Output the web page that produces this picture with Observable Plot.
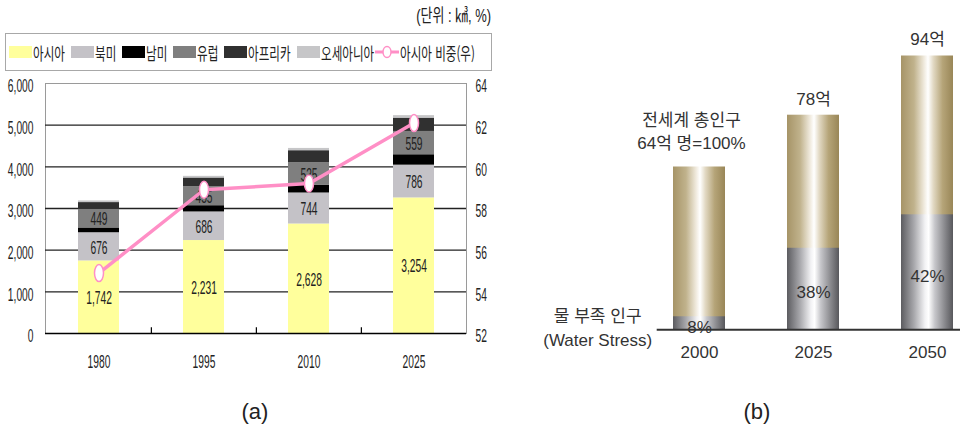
<!DOCTYPE html>
<html lang="ko">
<head>
<meta charset="utf-8">
<script src="https://cdn.jsdelivr.net/npm/d3@7"></script>
<script src="https://cdn.jsdelivr.net/npm/@observablehq/plot@0.6"></script>
<style>
  html, body { margin: 0; padding: 0; background: #fff; }
  #wrap { position: relative; width: 961px; height: 436px; overflow: hidden;
          font-family: "Liberation Sans", "Noto Sans CJK KR", sans-serif; color: #222; }
  #wrap > svg { position: absolute; top: 0; }
  #unit { position: absolute; top: 6px; right: 470px; font-size: 18px; line-height: 20px;
          white-space: nowrap; transform: scaleX(0.72); transform-origin: right center; }
  #legend { position: absolute; left: 5px; top: 33px; width: 487px; height: 38px; box-sizing: border-box;
            border: 1px solid #a8a8a8; display: flex; align-items: center; padding-left: 3px; }
  .sw { width: 23px; height: 12px; flex: none; margin-right: 1px; }
  .lab { flex: none; margin-right: 6px; font: 17px "Noto Sans CJK KR", sans-serif; white-space: nowrap; }
  .narrow { display: inline-block; white-space: nowrap; transform-origin: left center; }
  .cap { position: absolute; top: 400px; width: 60px; text-align: center; font-size: 22px; line-height: 24px; color: #222; }
</style>
</head>
<body>
<div id="wrap">
  <div id="unit">(단위 : ㎦, %)</div>
  <div id="legend"></div>
  <div class="cap" style="left:225px">(a)</div>
  <div class="cap" style="left:727px">(b)</div>
</div>
<script>
// ---- (a) 대륙별 물 사용량 (㎦) 과 아시아 비중 (%) ----
const years = ["1980", "1995", "2010", "2025"];
const regions = ["아시아", "북미", "남미", "유럽", "아프리카", "오세아니아"];
const regionColors = ["#ffff9c", "#c4c2c7", "#000000", "#7f7f7f", "#303030", "#c6c6c8"];
const asia = [1742, 2231, 2628, 3254];
const northAmerica = [676, 686, 744, 786];
const southAmerica = [115, 150, 190, 250];
const europe = [449, 455, 535, 559];
const africa = [160, 210, 290, 320];
const oceania = [40, 40, 55, 60];
const asiaShare = [54.9, 58.9, 59.2, 62.1];
const labeledRegions = ["아시아", "북미", "유럽"];
const leftTicks = [0, 1000, 2000, 3000, 4000, 5000, 6000];
const rightTicks = [52, 54, 56, 58, 60, 62, 64];
const shareLabel = "아시아 비중(우)";

// ---- (b) 세계 인구와 물 부족 인구 ----
const popYears = ["2000", "2025", "2050"];
const popTotal = [64, 78, 94];      // 억 명
const stressPct = [8, 38, 42];      // %
const popFloor = 20;                // 막대 높이 기준선

const pink = "#ff8fc6";
const squeeze = 0.57;

const regionValues = [asia, northAmerica, southAmerica, europe, africa, oceania];
const rows = [];
regions.forEach((region, i) => years.forEach((year, j) => rows.push({year, region, value: regionValues[i][j]})));
const shares = years.map((year, j) => ({year, share: asiaShare[j]}));
const shareToLeft = d3.scaleLinear([rightTicks[0], rightTicks[rightTicks.length - 1]], [leftTicks[0], leftTicks[leftTicks.length - 1]]);
const fmt = d3.format(",");

// tall, narrow marker for the share line
const ellipse = {
  draw(ctx, size) {
    const ry = Math.sqrt(size / Math.PI), rx = ry * 0.53, k = 0.5523;
    ctx.moveTo(rx, 0);
    ctx.bezierCurveTo(rx, k * ry, k * rx, ry, 0, ry);
    ctx.bezierCurveTo(-k * rx, ry, -rx, k * ry, -rx, 0);
    ctx.bezierCurveTo(-rx, -k * ry, -k * rx, -ry, 0, -ry);
    ctx.bezierCurveTo(k * rx, -ry, rx, -k * ry, rx, 0);
    ctx.closePath();
  }
};

const plotLeft = 45, plotRight = 466;
const step = (plotRight - plotLeft) / years.length;

const chartA = Plot.plot({
  width: 500, height: 380,
  marginLeft: plotLeft, marginRight: 500 - plotRight, marginTop: 83, marginBottom: 47,
  x: {type: "band", domain: years, paddingInner: 0.61, paddingOuter: 0.305},
  y: {domain: [leftTicks[0], leftTicks[leftTicks.length - 1]]},
  color: {domain: regions, range: regionColors},
  style: {fontFamily: "'Liberation Sans', 'Noto Sans CJK KR', sans-serif", fontSize: "18px", color: "#222", background: "transparent"},
  marks: [
    Plot.frame({stroke: "#9a9a9a"}),
    Plot.ruleY(leftTicks.slice(1, -1), {stroke: "#222", strokeWidth: 1.4}),
    Plot.barY(rows, {x: "year", y: "value", fill: "region", order: regions}),
    Plot.ruleY([0], {stroke: "#000", strokeWidth: 1.6}),
    Plot.ruleX(years.slice(1), {x: d => d, dx: -step / 2, y1: 0, y2: 140, stroke: "#000", strokeWidth: 1.2}),
    Plot.axisY(leftTicks, {anchor: "left", tickSize: 0, tickPadding: 12, tickFormat: fmt, dy: 3, label: null}),
    Plot.axisY(rightTicks.map(shareToLeft), {anchor: "right", tickSize: 0, tickPadding: 9,
      tickFormat: d => Math.round(shareToLeft.invert(d)), dy: 3, label: null}),
    Plot.axisX({tickSize: 0, tickPadding: 22, label: null}),
    Plot.text(rows, Plot.stackY({x: "year", y: "value", z: "region", order: regions, dy: 1,
      text: d => labeledRegions.includes(d.region) ? fmt(d.value) : null})),
    Plot.line(shares, {x: "year", y: d => shareToLeft(d.share), stroke: pink, strokeWidth: 3.5}),
    Plot.dot(shares, {x: "year", y: d => shareToLeft(d.share), symbol: ellipse, r: 8.5,
      fill: "white", stroke: pink, strokeWidth: 1.5})
  ]
});
chartA.style.left = "0px";

// condensed lettering in panel (a)
d3.select(chartA).selectAll("text").each(function() {
  const t = this.getAttribute("transform") || "";
  const x = +this.getAttribute("x") || 0, y = +this.getAttribute("y") || 0;
  this.setAttribute("transform", `${t} translate(${x},${y}) scale(${squeeze},1) translate(${-x},${-y})`);
});

const popRows = popYears.map((year, i) => ({year, total: popTotal[i], pct: stressPct[i]}));
const stressTop = d => popFloor + (d.total - popFloor) * d.pct / 100;

const chartB = Plot.plot({
  width: 431, height: 436,
  marginLeft: 126.7, marginRight: 1, marginTop: 55.5, marginBottom: 106.7,
  x: {type: "band", domain: popYears, paddingInner: 0.546, paddingOuter: 0.0974, align: 0.695},
  y: {domain: [popFloor, d3.max(popTotal)], axis: null},
  style: {fontFamily: "'Liberation Sans', 'Noto Sans CJK KR', sans-serif", fontSize: "17px", color: "#333", background: "transparent"},
  marks: [
    Plot.barY(popRows, {x: "year", y1: popFloor, y2: "total", fill: "url(#khakiGrad)"}),
    Plot.barY(popRows, {x: "year", y1: popFloor, y2: stressTop, fill: "url(#steelGrad)"}),
    Plot.text(popRows, {x: "year", y: d => (popFloor + stressTop(d)) / 2, text: d => `${d.pct}%`, dy: 4}),
    Plot.text(popRows.slice(1), {x: "year", y: "total", text: d => `${d.total}억`, dy: -16}),
    Plot.text(popRows.slice(0, 1), {x: "year", y: "total", text: d => `전세계 총인구\n${d.total}억 명=100%`,
      dx: -8, dy: -37, lineHeight: 1.35}),
    Plot.text(["물 부족 인구\n(Water Stress)"], {frameAnchor: "bottom-left", textAnchor: "middle", lineAnchor: "middle",
      dx: -59.5, dy: -3.8, lineHeight: 1.47}),
    Plot.ruleY([popFloor], {stroke: "#333", strokeWidth: 2}),
    Plot.axisX({tickSize: 0, tickPadding: 16, label: null})
  ]
});
chartB.style.left = "530px";

// cylinder shading for the population bars
const defs = d3.select(chartB).insert("defs", ":first-child");
function gradient(id, stops) {
  const g = defs.append("linearGradient").attr("id", id).attr("x1", 0).attr("x2", 1).attr("y1", 0).attr("y2", 0);
  stops.forEach(([o, c]) => g.append("stop").attr("offset", o).attr("stop-color", c));
}
gradient("khakiGrad", [[0, "#a69467"], [0.25, "#c0b28c"], [0.44, "#efe9dc"], [0.52, "#ffffff"],
  [0.62, "#e2d9c4"], [0.8, "#b5a478"], [1, "#998657"]]);
gradient("steelGrad", [[0, "#5c5c60"], [0.25, "#a8a8ac"], [0.46, "#f2f2f4"], [0.53, "#ffffff"],
  [0.65, "#c6c6ca"], [0.85, "#86868a"], [1, "#58585c"]]);

const wrap = document.getElementById("wrap");
wrap.appendChild(chartA);
wrap.appendChild(chartB);

// legend
const legend = document.getElementById("legend");
const legendSqueeze = 0.68;
function label(text) {
  const outer = document.createElement("span");
  outer.className = "lab";
  const inner = document.createElement("span");
  inner.className = "narrow";
  inner.style.transform = `scaleX(${legendSqueeze})`;
  inner.textContent = text;
  outer.appendChild(inner);
  legend.appendChild(outer);
  outer.style.width = (inner.offsetWidth * legendSqueeze) + "px";
}
regions.forEach((region, i) => {
  const sw = document.createElement("span");
  sw.className = "sw";
  sw.style.background = regionColors[i];
  legend.appendChild(sw);
  label(region);
});
const mark = document.createElementNS("http://www.w3.org/2000/svg", "svg");
mark.setAttribute("width", 24);
mark.setAttribute("height", 14);
mark.style.flex = "none";
mark.style.marginLeft = "-5px";
mark.style.marginRight = "1px";
mark.innerHTML = `<line x1="0" x2="24" y1="7" y2="7" stroke="${pink}" stroke-width="3"/>` +
  `<ellipse cx="12" cy="7" rx="4" ry="5.5" fill="white" stroke="${pink}" stroke-width="1.5"/>`;
legend.appendChild(mark);
label(shareLabel);
</script>
</body>
</html>
